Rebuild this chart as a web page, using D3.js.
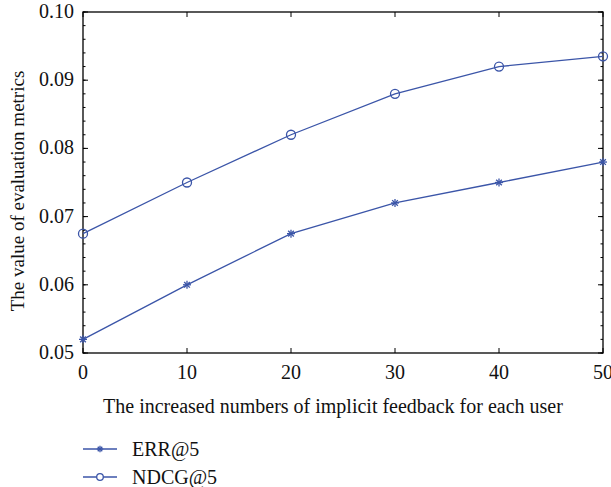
<!DOCTYPE html>
<html>
<head>
<meta charset="utf-8">
<script src="https://cdn.jsdelivr.net/npm/d3@7"></script>
<style>
body { margin: 0; background: #fff; }
text { font-family: "Liberation Serif", "DejaVu Serif", serif; fill: #111; }
</style>
</head>
<body>
<svg id="chart" width="611" height="487"></svg>
<script>
var feedback = [0, 10, 20, 30, 40, 50];
var errValues = [0.052, 0.060, 0.0675, 0.072, 0.075, 0.078];
var ndcgValues = [0.0675, 0.075, 0.082, 0.088, 0.092, 0.0935];
var seriesNames = ["ERR@5", "NDCG@5"];
var yTicks = [0.05, 0.06, 0.07, 0.08, 0.09, 0.10];

var color = "#3b55a8";
var svg = d3.select("#chart");
var pLeft = 83, pRight = 603, pTop = 12, pBottom = 353;
var fs = 20;

var x = d3.scaleLinear().domain([0, 50]).range([pLeft, pRight]);
var y = d3.scaleLinear().domain([0.05, 0.10]).range([pBottom, pTop]);

var minor = d3.range(0.05, 0.1001, 0.002);

// frame
svg.append("rect")
	.attr("x", pLeft).attr("y", pTop)
	.attr("width", pRight - pLeft).attr("height", pBottom - pTop)
	.attr("fill", "none").attr("stroke", "#000").attr("stroke-width", 1.3);

// y ticks (inward, both sides)
minor.forEach(function(v){
	svg.append("line").attr("x1", pLeft).attr("x2", pLeft + 2.5)
		.attr("y1", y(v)).attr("y2", y(v)).attr("stroke", "#000");
	svg.append("line").attr("x1", pRight).attr("x2", pRight - 2.5)
		.attr("y1", y(v)).attr("y2", y(v)).attr("stroke", "#000");
});
yTicks.forEach(function(v){
	svg.append("line").attr("x1", pLeft).attr("x2", pLeft + 5)
		.attr("y1", y(v)).attr("y2", y(v)).attr("stroke", "#000");
	svg.append("line").attr("x1", pRight).attr("x2", pRight - 5)
		.attr("y1", y(v)).attr("y2", y(v)).attr("stroke", "#000");
	svg.append("text").attr("x", pLeft - 9).attr("y", y(v) + 6)
		.attr("text-anchor", "end").attr("font-size", fs)
		.text(d3.format(".2f")(v));
});

// x ticks
feedback.forEach(function(v){
	svg.append("line").attr("x1", x(v)).attr("x2", x(v))
		.attr("y1", pBottom).attr("y2", pBottom - 5).attr("stroke", "#000");
	svg.append("line").attr("x1", x(v)).attr("x2", x(v))
		.attr("y1", pTop).attr("y2", pTop + 5).attr("stroke", "#000");
	svg.append("text").attr("x", x(v)).attr("y", pBottom + 26)
		.attr("text-anchor", "middle").attr("font-size", fs)
		.text(v);
});

// axis labels
svg.append("text").attr("x", 333).attr("y", 413)
	.attr("text-anchor", "middle").attr("font-size", fs)
	.text("The increased numbers of implicit feedback for each user");
svg.append("text")
	.attr("transform", "translate(24,191) rotate(-90)")
	.attr("text-anchor", "middle").attr("font-size", 19)
	.text("The value of evaluation metrics");

var line = d3.line().x(function(d, i){ return x(feedback[i]); }).y(function(d){ return y(d); });

function star(g, cx, cy, s) {
	[0, 45, 90, 135].forEach(function(a){
		var r = a * Math.PI / 180;
		g.append("line")
			.attr("x1", cx - s * Math.cos(r)).attr("y1", cy - s * Math.sin(r))
			.attr("x2", cx + s * Math.cos(r)).attr("y2", cy + s * Math.sin(r))
			.attr("stroke", color).attr("stroke-width", 1.3);
	});
}

svg.append("path").datum(errValues).attr("d", line)
	.attr("fill", "none").attr("stroke", color).attr("stroke-width", 1.3);
svg.append("path").datum(ndcgValues).attr("d", line)
	.attr("fill", "none").attr("stroke", color).attr("stroke-width", 1.3);

var marks = svg.append("g");
errValues.forEach(function(v, i){ star(marks, x(feedback[i]), y(v), 4); });
ndcgValues.forEach(function(v, i){
	marks.append("circle").attr("cx", x(feedback[i])).attr("cy", y(v)).attr("r", 4.5)
		.attr("fill", "none").attr("stroke", color).attr("stroke-width", 1.3);
});

// legend
var legend = svg.append("g");
seriesNames.forEach(function(name, i){
	var ly = 449 + i * 28;
	legend.append("line").attr("x1", 83).attr("x2", 117).attr("y1", ly).attr("y2", ly)
		.attr("stroke", color).attr("stroke-width", 1.3);
	if (i === 0) star(legend, 100, ly, 3.2);
	else legend.append("circle").attr("cx", 100).attr("cy", ly).attr("r", 3.3)
		.attr("fill", "#fff").attr("stroke", color).attr("stroke-width", 1.3);
	legend.append("text").attr("x", 132).attr("y", ly + 6.5).attr("font-size", fs).text(name);
});
</script>
</body>
</html>
